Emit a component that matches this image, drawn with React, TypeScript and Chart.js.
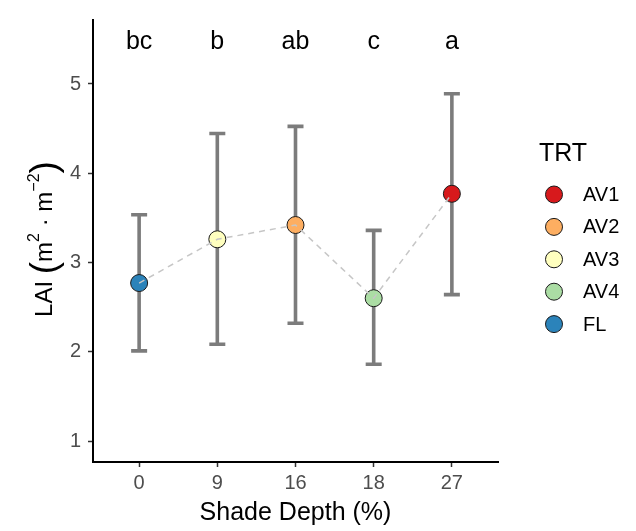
import React, { useEffect, useRef } from "react";
import { Chart, registerables } from "chart.js";

Chart.register(...registerables);

const categories = ["0", "9", "16", "18", "27"];
const treatments = ["FL", "AV3", "AV2", "AV4", "AV1"];
const means = [2.77, 3.26, 3.42, 2.6, 3.77];
const lowerCI = [2.01, 2.085, 2.32, 1.86, 2.64];
const upperCI = [3.535, 4.445, 4.525, 3.36, 4.89];
const letters = ["bc", "b", "ab", "c", "a"];
const letterLevel = 5.47;
const legendOrder = ["AV1", "AV2", "AV3", "AV4", "FL"];
const trtColors: Record<string, string> = {
  AV1: "#D7191C",
  AV2: "#FDAE61",
  AV3: "#FFFFBF",
  AV4: "#ABDDA4",
  FL: "#2B83BA",
};
const yTicks = [1, 2, 3, 4, 5];
const yMin = 0.765;
const yMax = 5.717;

const FONT = '"Liberation Sans", Arial, sans-serif';

const errorBarPlugin = {
  id: "errorBars",
  beforeDatasetsDraw(chart: any) {
    const { ctx, scales } = chart;
    const xs = scales.x;
    const ys = scales.y;
    ctx.save();
    ctx.strokeStyle = "#7c7c7c";
    ctx.lineWidth = 3.6;
    ctx.lineCap = "butt";
    categories.forEach((_, i) => {
      const x = xs.getPixelForValue(i);
      const yt = ys.getPixelForValue(upperCI[i]);
      const yb = ys.getPixelForValue(lowerCI[i]);
      ctx.beginPath();
      ctx.moveTo(x, yt);
      ctx.lineTo(x, yb);
      ctx.stroke();
      ctx.beginPath();
      ctx.moveTo(x - 8, yt);
      ctx.lineTo(x + 8, yt);
      ctx.moveTo(x - 8, yb);
      ctx.lineTo(x + 8, yb);
      ctx.stroke();
    });
    ctx.restore();
  },
};

const annotationPlugin = {
  id: "annotations",
  afterDraw(chart: any) {
    const { ctx, scales, chartArea } = chart;
    const xs = scales.x;
    const ys = scales.y;
    ctx.save();
    // significance letters
    ctx.fillStyle = "#000";
    ctx.font = `25px ${FONT}`;
    ctx.textAlign = "center";
    ctx.textBaseline = "middle";
    letters.forEach((l, i) => {
      ctx.fillText(l, xs.getPixelForValue(i), ys.getPixelForValue(letterLevel));
    });

    // y-axis title with superscripts
    const segs = [
      { t: "LAI", size: 24, rise: 0 },
      { t: " ", size: 24, rise: 0 },
      { t: "(", size: 37, rise: -4 },
      { t: "m", size: 24, rise: 0 },
      { t: "2", size: 16, rise: 13 },
      { t: " \u00b7 ", size: 24, rise: 0 },
      { t: "m", size: 24, rise: 0 },
      { t: "\u22122", size: 16, rise: 13 },
      { t: ")", size: 37, rise: -4 },
    ];
    let total = 0;
    const widths = segs.map((s) => {
      ctx.font = `${s.size}px ${FONT}`;
      const w = ctx.measureText(s.t).width;
      total += w;
      return w;
    });
    const cy = (chartArea.top + chartArea.bottom) / 2 - 2;
    ctx.translate(52, cy);
    ctx.rotate(-Math.PI / 2);
    ctx.textAlign = "left";
    ctx.textBaseline = "alphabetic";
    let x = -total / 2;
    segs.forEach((s, i) => {
      ctx.font = `${s.size}px ${FONT}`;
      ctx.fillText(s.t, x, -s.rise);
      x += widths[i];
    });
    ctx.restore();

    // legend
    ctx.save();
    ctx.fillStyle = "#000";
    ctx.font = `25px ${FONT}`;
    ctx.textAlign = "left";
    ctx.textBaseline = "middle";
    const lx = chartArea.right + 41;
    ctx.fillText("TRT", lx, 154);
    ctx.font = `20px ${FONT}`;
    legendOrder.forEach((k, i) => {
      const y = 194.5 + i * 32.4;
      ctx.beginPath();
      ctx.arc(lx + 15, y, 8.5, 0, Math.PI * 2);
      ctx.fillStyle = trtColors[k];
      ctx.fill();
      ctx.lineWidth = 1;
      ctx.strokeStyle = "#1a1a1a";
      ctx.stroke();
      ctx.fillStyle = "#000";
      ctx.fillText(k, lx + 44, y + 1);
    });
    ctx.restore();
  },
};

export default function App() {
  const canvasRef = useRef<HTMLCanvasElement | null>(null);

  useEffect(() => {
    if (!canvasRef.current) return;
    const points = means.map((m, i) => ({ x: i, y: m }));
    const chart = new Chart(canvasRef.current, {
      type: "scatter",
      data: {
        datasets: [
          {
            type: "line",
            data: points,
            borderColor: "#c6c6c6",
            borderDash: [6, 5],
            borderWidth: 1.5,
            pointRadius: 0,
            fill: false,
            tension: 0,
          } as any,
          {
            type: "scatter",
            data: points,
            backgroundColor: treatments.map((t) => trtColors[t]),
            borderColor: "#1a1a1a",
            borderWidth: 1,
            pointRadius: 8.5,
          },
        ],
      },
      options: {
        responsive: false,
        animation: false,
        layout: { padding: { top: 20, right: 138, left: 0, bottom: 0 } },
        plugins: {
          legend: { display: false },
          tooltip: { enabled: false },
        },
        scales: {
          x: {
            type: "linear",
            min: -0.59,
            max: 4.59,
            afterBuildTicks: (s: any) => {
              s.ticks = categories.map((_, i) => ({ value: i }));
            },
            afterFit: (s: any) => {
              s.height = 69;
            },
            ticks: {
              callback: (v: any) => categories[v as number],
              font: { family: FONT, size: 20 },
              color: "#4d4d4d",
              padding: 4,
              maxRotation: 0,
            },
            grid: {
              display: true,
              drawOnChartArea: false,
              drawTicks: true,
              tickLength: 5,
              tickColor: "#333333",
              tickWidth: 1.5,
            },
            border: { display: true, color: "#000", width: 2 },
            title: {
              display: true,
              text: "Shade Depth (%)",
              font: { family: FONT, size: 25 },
              color: "#000",
              padding: { top: 0, bottom: 3 },
            },
          },
          y: {
            min: yMin,
            max: yMax,
            afterBuildTicks: (s: any) => {
              s.ticks = yTicks.map((v) => ({ value: v }));
            },
            afterFit: (s: any) => {
              s.width = 93;
            },
            ticks: {
              font: { family: FONT, size: 20 },
              color: "#4d4d4d",
              padding: 7,
            },
            grid: {
              display: true,
              drawOnChartArea: false,
              drawTicks: true,
              tickLength: 5,
              tickColor: "#333333",
              tickWidth: 1.5,
            },
            border: { display: true, color: "#000", width: 2 },
          },
        },
      },
      plugins: [errorBarPlugin, annotationPlugin],
    });
    return () => chart.destroy();
  }, []);

  return (
    <div style={{ position: "absolute", left: 0, top: 0, width: 636, height: 531, background: "#fff" }}>
      <canvas ref={canvasRef} width={636} height={531} style={{ display: "block" }} />
    </div>
  );
}
